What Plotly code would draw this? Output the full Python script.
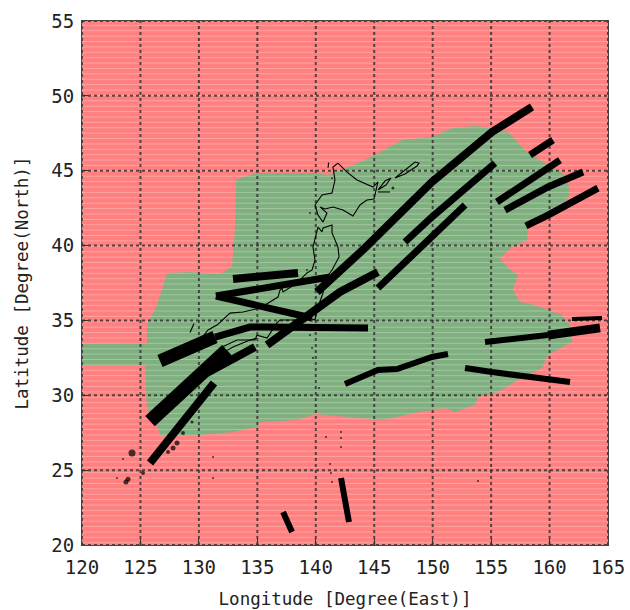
import plotly.graph_objects as go

FONT = "DejaVu Sans Mono"
RED, GREEN = "#ff8080", "#80b080"

grid_lons = [120, 125, 130, 135, 140, 145, 150, 155, 160, 165]
grid_lats = [20, 25, 30, 35, 40, 45, 50, 55]

area_lon = [133.17,133.5,134.97,139.93,141.05,143.61,145.07,147.38,149.94,151.65,153.62,155.08,156.44,158.16,159.61,161.32,161.66,161.66,159.87,158.16,158.07,156.79,155.76,156.36,157.3,156.87,157.47,158.75,161.06,161.92,161.92,159.87,159.35,157.3,155.59,153.88,153.62,151.91,151.05,148.49,145.67,143.61,139.93,138.39,135.23,134.97,132.92,130.09,126.67,126.42,125.56,125.39,120,120,125.56,125.56,126.42,127.27,129.24,131.81,132.83,133.09,133.17]
area_lat = [44.38,44.5,44.85,44.85,44.71,45.51,46.05,47.05,47.25,47.85,47.99,47.85,47.59,46.18,45.51,44.71,43.91,43.24,41.91,41.24,40.37,39.9,39.17,38.57,38.03,37.03,36.23,36.03,35.36,34.5,33.56,32.69,31.82,31.02,30.22,29.88,29.35,28.88,29.15,28.81,28.35,28.48,28.75,28.35,28.21,27.88,27.55,27.34,27.34,28.01,29.15,32.02,32.02,33.42,33.49,34.69,36.03,38.17,38.23,38.1,38.57,41.24,44.38]

# name: (lons, lats, width)
tracks = {
    "t1": ([140.1,144.21,149.94,155.08,158.5], [36.9,39.84,44.25,47.59,49.26], 8),
    "t2": ([147.63,149.94,155.33], [40.24,41.91,45.51], 7),
    "t3": ([145.32,149.34,152.77], [37.16,40.24,42.71], 7),
    "t4": ([135.83,142.07,145.32], [33.36,36.9,38.23], 8),
    "t5": ([158.33,160.29], [46.05,47.05], 7),
    "t6": ([155.5,160.89], [42.91,45.71], 7),
    "t7": ([156.19,159.87,162.86], [42.37,43.91,44.91], 7),
    "t8": ([157.98,159.87,164.14], [41.31,42.04,43.84], 7),
    "t9": ([132.92,138.48], [37.77,38.17], 8),
    "t10": ([131.46,141.22], [36.63,37.9], 7),
    "t10b": ([131.46,139.68], [36.63,35.16], 7),
    "t11a": ([126.67,131.38], [32.29,33.89], 13),
    "t11b": ([131.38,134.37,135.4,144.47], [33.89,34.56,34.56,34.5], 7),
    "t12": ([125.82,132.4], [28.28,33.02], 14),
    "t13": ([130.69,134.8], [31.49,33.22], 8),
    "t14": ([125.82,131.29], [25.47,30.82], 8),
    "t16": ([137.2,137.97], [22.2,20.87], 6),
    "t17": ([142.16,142.84], [24.47,21.53], 6),
    "t18": ([142.5,145.32,146.95,149.94,151.31], [30.75,31.69,31.75,32.56,32.76], 6),
    "t19": ([152.77,155.08,161.75], [31.82,31.55,30.89], 6),
    "t20a": ([154.48,159.87], [33.56,34.02], 6),
    "t20b": ([159.87,164.32], [34.02,34.5], 9),
    "t21": ([161.92,164.49], [35.09,35.16], 4),
}

coast = {
    "hokkaido": ([141.9,142.67,143.53,144.9,145.32,145.15,144.98,144.38,143.78,143.18,142.33,141.47,140.79,140.36,140.96,140.62,140.19,139.93,140.53,141.39,141.64,141.47,141.9],
                 [45.51,44.91,44.38,43.91,44.25,43.58,43.11,43.04,42.71,41.97,42.37,42.58,42.44,42.58,42.17,41.57,42.04,42.71,43.38,43.51,44.38,45.25,45.51]),
    "honshu": ([130.09,130.78,131.55,132.66,133.77,135.23,136.77,136.94,137.11,137.2,138.39,139.25,139.68,139.93,139.76,140.19,140.53,140.62,141.39,141.39,141.9,141.99,141.39,141.05,140.79,140.62,140.1,139.93,139.25,138.65,136.94,136.68,135.83,134.97,134.8,133.26,132.4,131.81],
               [33.69,34.36,34.69,35.49,35.56,35.83,36.56,37.03,37.16,36.9,37.5,38.17,38.37,39.03,39.9,41.24,40.91,41.17,41.37,40.84,39.9,39.24,38.37,38.03,37.7,36.83,35.7,35.03,35.23,35.03,35.03,34.83,33.82,34.02,33.69,33.69,33.36,33.16]),
    "shikoku": ([132.4,132.92,134.37,134.97], [33.0,33.22,33.69,33.82]),
    "iturup": ([146.78,147.63,148.49,148.83,148.66,147.63,146.78], [44.51,45.05,45.58,45.51,45.31,44.78,44.51]),
    "kunashir": ([145.32,145.92,146.43,146,145.32], [43.71,44.31,44.51,44.04,43.71]),
    "habomai": ([145.32,146.35], [43.58,43.58]),
    "tsushima": ([129.24,129.58], [34.2,34.8]),
    "rebun": ([141.05,141.1], [45.2,45.55]),
}

isle_lon = [124.28,123.51,123.94,123.76,122.99,125.22,127.79,128.13,127.36,128.64,129.41,131.21,131.21,142.16,142.16,142.16,140.87,141.22,141.3,141.39,153.88,140.28,139.5,139.68,139.76,139.5,139.25,141.39,146.6]
isle_lat = [26.14,25.74,24.4,24.21,24.47,24.81,26.48,26.81,26.21,27.48,28.21,25.88,24.47,27.55,27.15,26.54,27.21,25.41,24.81,24.21,24.27,30.48,34.02,33.16,32.49,42.17,38.37,44.5,43.84]
isle_size = [7,2,5,5,2,4,5,5,4,4,3,2,2,2,2,2,2,2,2,2,2,2,2,2,2,2,2,2,3]

fig = go.Figure()

# Background region and coverage region
fig.add_trace(go.Scatter(x=[120,165,165,120,120], y=[20,20,55,55,20], mode="lines",
                         line=dict(width=0), fill="toself", fillcolor=RED, hoverinfo="skip"))
fig.add_trace(go.Scatter(x=area_lon, y=area_lat, mode="lines", line=dict(width=0),
                         fill="toself", fillcolor=GREEN, hoverinfo="skip"))

# Fine raster banding
band_x, band_y = [], []
for i in range(98):
    lat = 20.15 + i * 0.36
    band_x += [120, 165, None]
    band_y += [lat, lat, None]
fig.add_trace(go.Scatter(x=band_x, y=band_y, mode="lines",
                         line=dict(color="rgba(255,255,255,0.28)", width=1), hoverinfo="skip"))

# Dashed grid on top of the fills
gx, gy = [], []
for lon in grid_lons:
    gx += [lon, lon, None]
    gy += [20, 55, None]
for lat in grid_lats:
    gx += [120, 165, None]
    gy += [lat, lat, None]
fig.add_trace(go.Scatter(x=gx, y=gy, mode="lines", hoverinfo="skip",
                         line=dict(color="rgba(45,45,45,0.8)", width=2, dash="3px,3px")))

for lons, lats in coast.values():
    fig.add_trace(go.Scatter(x=lons, y=lats, mode="lines", hoverinfo="skip",
                             line=dict(color="black", width=1.1)))
fig.add_trace(go.Scatter(x=isle_lon, y=isle_lat, mode="markers", hoverinfo="skip",
                         marker=dict(color="black", size=isle_size, line=dict(width=0))))

for lons, lats, width in tracks.values():
    fig.add_trace(go.Scatter(x=lons, y=lats, mode="lines", hoverinfo="skip",
                             line=dict(color="black", width=width)))

axis = dict(showgrid=False, zeroline=False, ticks="inside", ticklen=6, tickcolor="#333",
            tickwidth=1, showline=True, mirror=True, linecolor="#444", linewidth=1,
            tickfont=dict(family=FONT, size=19, color="#222"))
fig.update_xaxes(range=[120,165], tickvals=grid_lons, ticklabelstandoff=5, **axis,
                 title=dict(text="Longitude [Degree(East)]", standoff=15,
                            font=dict(family=FONT, size=17.5, color="#222")))
fig.update_yaxes(range=[20,55], tickvals=grid_lats, ticklabelstandoff=3, **axis,
                 title=dict(text="Latitude [Degree(North)]", standoff=18,
                            font=dict(family=FONT, size=17.5, color="#222")))
fig.update_layout(width=630, height=610, showlegend=False, paper_bgcolor="white",
                  plot_bgcolor=RED, margin=dict(l=82, r=22, t=21, b=65, autoexpand=False))
fig.write_html("out.html", config={"displayModeBar": False}, post_script=(
    "document.body.style.margin='0';"
    "document.documentElement.style.overflow='hidden';"))
